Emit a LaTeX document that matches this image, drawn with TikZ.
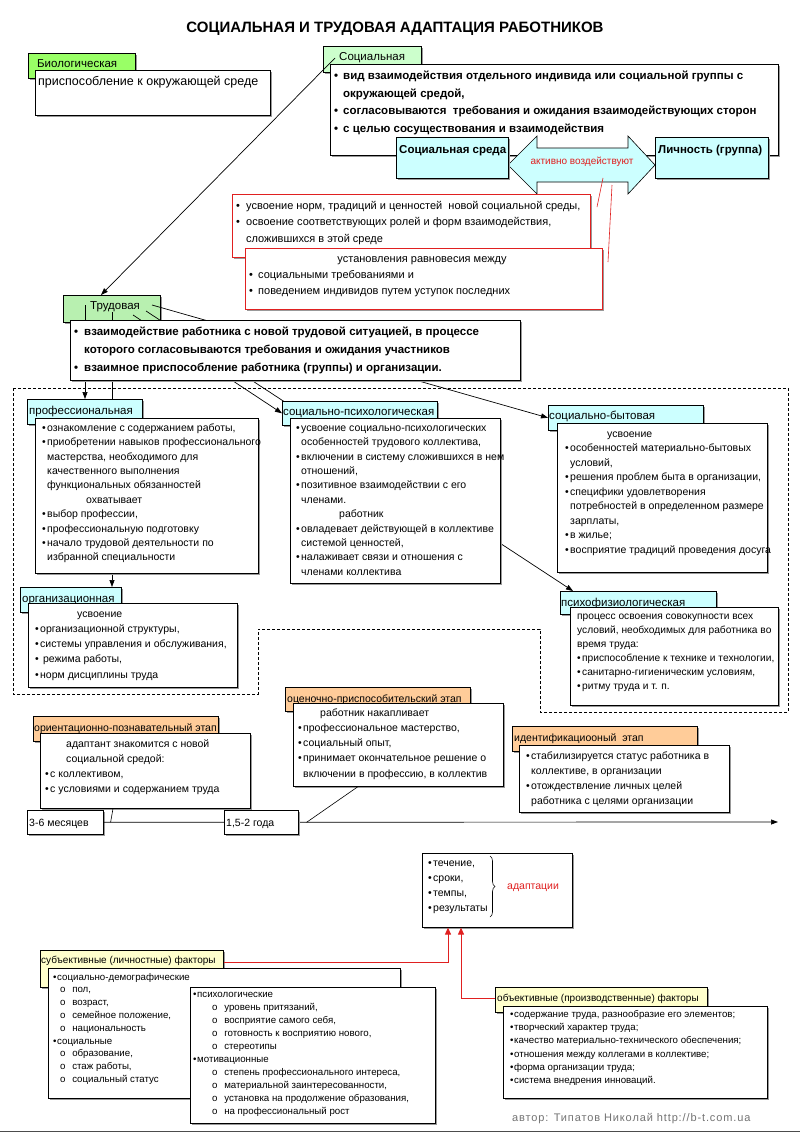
\documentclass[tikz,border=0pt]{standalone}
\usepackage{fontspec}
\setmainfont{Liberation Sans}
\usetikzlibrary{arrows.meta,calc,decorations.pathreplacing}
\definecolor{bioG}{HTML}{99FF66}
\definecolor{socG}{HTML}{CCFFCC}
\definecolor{trG}{HTML}{B8F0B0}
\definecolor{cy}{HTML}{CCFFFF}
\definecolor{orng}{HTML}{FFCC99}
\definecolor{ylw}{HTML}{FFFFCC}
\definecolor{rd}{HTML}{E02020}
\newcommand\fs[2]{\fontsize{#1}{#2}\selectfont}
\newcommand\bu[1]{\makebox[#1][l]{•}}
\newcommand\iu[1]{\hspace*{#1}}
\newcommand\R{\rule{0pt}{0.8em}}
\newcommand\bx[6]{%
  \fill[black!40] (#2+2,#3+2) rectangle (#4+2,#5+2);
  \node[#6, anchor=north west, minimum width={(#4)-(#2)}, minimum height={(#5)-(#3)}] (#1) at (#2,#3) {};}
\pgfdeclarelayer{bgl}
\pgfdeclarelayer{lnl}
\pgfsetlayers{bgl,lnl,main}
\begin{document}
\begin{tikzpicture}[x=1pt,y=-1pt,
  box/.style={draw=black, line width=0.6pt, inner sep=0pt, fill=white},
  txt/.style={anchor=base west, inner sep=0pt, align=left},
  mtxt/.style={anchor=north west, inner sep=0pt, align=left},
  arr/.style={-{Triangle[length=7pt,width=5pt]}, line width=0.7pt},
  rarr/.style={-{Triangle[length=7pt,width=6pt]}, draw=rd, line width=1pt},
  lbl/.style={txt, font=\fs{11.5}{14}},
  body/.style={mtxt, font=\fs{10.5}{14.4}}]
\begin{pgfonlayer}{bgl}
\fill[white] (0,0) rectangle (800,1140);
\end{pgfonlayer}
\useasboundingbox (0,0) rectangle (800,1140);

\node[font=\bfseries\fs{15}{17}] (title) at (395,29) {СОЦИАЛЬНАЯ И ТРУДОВАЯ АДАПТАЦИЯ РАБОТНИКОВ};

% biological
\bx{bioL}{28}{53}{135}{78}{box, fill=bioG}
\node[lbl] (bioLt) at (37,67) {Биологическая};
\bx{bioB}{35}{70}{270}{115}{box}
\node[txt, font=\fs{12.5}{15}] (bioBt) at (38,85) {приспособление к окружающей среде};

% social
\bx{socL}{323}{46}{421}{72}{box, fill=socG}
\node[lbl] (socLt) at (339,60) {Социальная};
\bx{socB}{330}{64}{778}{155}{box}
\node[mtxt, font=\bfseries\fs{11.5}{17.6}] (socBt) at (334,70.3) {\R\bu{9pt}вид взаимодействия отдельного индивида или социальной группы с\\ \iu{9pt}окружающей средой,\\ \bu{9pt}согласовываются \ требования и ожидания взаимодействующих сторон\\ \bu{9pt}с целью сосуществования и взаимодействия};
\draw[fill=cy, line width=0.6pt] (508,165) -- (537,136) -- (537,148) -- (628,148) -- (628,136) -- (655,165) -- (628,194) -- (628,182) -- (537,182) -- (537,194) -- cycle;
\bx{sred}{396}{137}{508}{178}{box, fill=cy}
\node[txt, font=\bfseries\fs{11.5}{14}] (sredt) at (399,153) {Социальная среда};
\bx{lich}{655}{137}{768}{178}{box, fill=cy}
\node[txt, font=\bfseries\fs{11.5}{14}] (licht) at (658,153) {Личность (группа)};
\node[font=\fs{10}{12}, text=rd] (aktiv) at (582,162) {активно воздействуют};
\coordinate (r1a) at (603,178); \coordinate (r1b) at (597,207);
\coordinate (r2a) at (612,185); \coordinate (r2b) at (608,262);
\draw[rd, line width=0.6pt] (r1a) -- (r1b);
\draw[rd, line width=0.6pt] (r2a) -- (r2b);

\bx{rb1}{232}{194}{590}{257}{box, draw=rd}
\node[mtxt, font=\fs{11}{16.5}] (rb1t) at (236,200.2) {\R\bu{10pt}усвоение норм, традиций и ценностей \ новой социальной среды,\\ \bu{10pt}освоение соответствующих ролей и форм взаимодействия,\\ \iu{10pt}сложившихся в этой среде};
\bx{rb2}{245}{248}{602}{309}{box, draw=rd}
\node[font=\fs{11}{13}, anchor=base, inner sep=0pt] (rb2h) at (422,262) {установления равновесия между};
\node[mtxt, font=\fs{11}{16.5}] (rb2t) at (249,269.2) {\R\bu{9pt}социальными требованиями и\\ \bu{9pt}поведением индивидов путем уступок последних};

% dashed region
\draw[line width=0.7pt, dash pattern=on 3pt off 2pt] (13,388) -- (788,388) -- (788,712) -- (540,712) -- (540,629) -- (258,629) -- (258,694) -- (13,694) -- cycle;

% labour
\begin{pgfonlayer}{bgl}
\bx{trL}{63}{295}{160}{322}{box, fill=trG}
\node[lbl] (trLt) at (90,309) {Трудовая};
\end{pgfonlayer}
\draw[arr] ($(socL.north west)+(12,12)$) -- ($(trL.north west)+(38,0)$);
\bx{trB}{70}{320}{520}{380}{box}
\node[mtxt, font=\bfseries\fs{11.5}{18}] (trBt) at (74,325.8) {\R\bu{10pt}взаимодействие работника с новой трудовой ситуацией, в процессе\\ \iu{10pt}которого согласовываются требования и ожидания участников\\ \bu{10pt}взаимное приспособление работника (группы) и организации.};

% categories
\bx{profL}{27}{399}{142}{424}{box, fill=cy}
\node[lbl] (profLt) at (29,414) {профессиональная};
\bx{profB}{35}{418}{258}{573}{box}
\node[body] (profBt) at (42,422.6) {\R\bu{5pt}ознакомление с содержанием работы,\\ \bu{5pt}приобретении навыков профессионального\\ \iu{5pt}мастерства, необходимого для\\ \iu{5pt}качественного выполнения\\ \iu{5pt}функциональных обязанностей\\ \iu{44pt}охватывает\\ \bu{5pt}выбор профессии,\\ \bu{5pt}профессиональную подготовку\\ \bu{5pt}начало трудовой деятельности по\\ \iu{5pt}избранной специальности};

\bx{orgL}{20}{587}{121}{612}{box, fill=cy}
\node[lbl] (orgLt) at (22,602) {организационная};
\bx{orgB}{28}{603}{237}{687}{box}
\node[mtxt, font=\fs{10.5}{15.2}] (orgBt) at (35,608.6) {\R\iu{42pt}усвоение\\ \bu{5pt}организационной структуры,\\ \bu{5pt}системы управления и обслуживания,\\ \bu{5pt} режима работы,\\ \bu{5pt}норм дисциплины труда};

\bx{spsL}{282}{401}{437}{425}{box, fill=cy}
\node[lbl] (spsLt) at (283,415) {социально-психологическая};
\bx{spsB}{290}{418}{500}{583}{box}
\node[body] (spsBt) at (296,422.6) {\R\bu{5pt}усвоение социально-психологических\\ \iu{5pt}особенностей трудового коллектива,\\ \bu{5pt}включении в систему сложившихся в нем\\ \iu{5pt}отношений,\\ \bu{5pt}позитивное взаимодействии с его\\ \iu{5pt}членами.\\ \iu{43pt}работник\\ \bu{5pt}овладевает действующей в коллективе\\ \iu{5pt}системой ценностей,\\ \bu{5pt}налаживает связи и отношения с\\ \iu{5pt}членами коллектива};

\bx{sbL}{548}{405}{703}{430}{box, fill=cy}
\node[lbl] (sbLt) at (549,419) {социально-бытовая};
\bx{sbB}{557}{423}{767}{572}{box}
\node[mtxt, font=\fs{10.5}{14.5}] (sbBt) at (565,428.6) {\R\iu{42pt}усвоение\\ \bu{5pt}особенностей материально-бытовых\\ \iu{5pt}условий,\\ \bu{5pt}решения проблем быта в организации,\\ \bu{5pt}специфики удовлетворения\\ \iu{5pt}потребностей в определенном размере\\ \iu{5pt}зарплаты,\\ \bu{5pt}в жилье;\\ \bu{5pt}восприятие традиций проведения досуга};

\bx{pfL}{560}{591}{716}{614}{box, fill=cy}
\node[lbl] (pfLt) at (561,606) {психофизиологическая};
\bx{pfB}{570}{607}{778}{705}{box}
\node[mtxt, font=\fs{10.2}{14}] (pfBt) at (577,610.8) {\R процесс освоения совокупности всех\\ условий, необходимых для работника во\\ время труда:\\ \bu{5pt}приспособление к технике и технологии,\\ \bu{5pt}санитарно-гигиеническим условиям,\\ \bu{5pt}ритму труда и т. п.};

% connectors from labour
\coordinate (t1) at ($(trL.north west)+(22,10)$);
\coordinate (t2) at ($(trL.north west)+(49,17)$);
\coordinate (t3) at ($(trL.north west)+(70,20)$);
\coordinate (t4) at ($(trL.north west)+(83,16)$);
\coordinate (t5) at ($(trL.north west)+(89,10)$);
\begin{pgfonlayer}{lnl}
\draw[arr] (t1) -- (t1 |- profL.north);
\draw[arr] (t2) -- (t2 |- orgL.north);
\draw[arr] (t3) -- (spsL.west);
\draw[arr] (t4) -- ($(pfL.north west)+(13,0)$);
\draw[arr] (t5) -- (sbL.west);
\end{pgfonlayer}

% stages
\bx{ocL}{285}{687}{470}{711}{box, fill=orng}
\node[txt, font=\fs{10.5}{13}] (ocLt) at (287,702) {оценочно-приспособительский этап};
\bx{ocB}{293}{703}{503}{786}{box}
\node[mtxt, font=\fs{10.5}{15.2}] (ocBt) at (298,707.6) {\R\iu{22pt}работник накапливает\\ \bu{5pt}профессиональное мастерство,\\ \bu{5pt}социальный опыт,\\ \bu{5pt}принимает окончательное решение о\\ \iu{5pt}включении в профессию, в коллектив};

\bx{orL}{33}{716}{218}{741}{box, fill=orng}
\node[txt, font=\fs{10.5}{13}] (orLt) at (34,731) {ориентационно-познавательный этап};
\bx{orB}{40}{733}{250}{808}{box}
\node[mtxt, font=\fs{10.5}{15}] (orBt) at (45,738.6) {\R\iu{21pt}адаптант знакомится с новой\\ \iu{21pt}социальной средой:\\ \bu{5pt}с коллективом,\\ \bu{5pt}с условиями и содержанием труда};

\bx{idL}{512}{726}{697}{751}{box, fill=orng}
\node[txt, font=\fs{10.5}{13}] (idLt) at (514,741) {идентификациооный \ этап};
\bx{idB}{519}{745}{729}{812}{box}
\node[mtxt, font=\fs{10.5}{15}] (idBt) at (526,750.6) {\R\bu{5pt}стабилизируется статус работника в\\ \iu{5pt}коллективе, в организации\\ \bu{5pt}отождествление личных целей\\ \iu{5pt}работника с целями организации};

% timeline
\bx{m36}{27}{810}{103}{834}{box}
\node[txt, font=\fs{10.5}{13}] (m36t) at (29,826) {3-6 месяцев};
\coordinate (tlEnd) at (778,822);
\draw[arr] (m36.east) -- (tlEnd);
\bx{y15}{224}{810}{298}{834}{box}
\node[txt, font=\fs{10.5}{13}] (y15t) at (226,826) {1,5-2 года};
\draw[line width=0.6pt] ($(m36.east)+(7,0)$) -- ($(orB.south west)+(73,0)$);
\draw[line width=0.6pt] ($(y15.east)+(8,0)$) -- ($(ocB.south west)+(65,0)$);

% adaptation
\bx{adB}{422}{853}{572}{927}{box}
\node[mtxt, font=\fs{10.5}{15}] (adBt) at (428,857.6) {\R\bu{5pt}течение,\\ \bu{5pt}сроки,\\ \bu{5pt}темпы,\\ \bu{5pt}результаты};
\draw[line width=0.6pt, decorate, decoration={brace, amplitude=5pt}] (490,856) -- (490,917);
\node[txt, font=\fs{10.5}{13}, text=rd] (adr) at (507,889) {адаптации};
\coordinate (aL) at ($(adB.south west)+(26,0)$);
\coordinate (aR) at ($(adB.south west)+(39,0)$);

% factors
\bx{sjL}{40}{950}{223}{987}{box, fill=ylw}
\node[txt, font=\fs{10}{12}] (sjLt) at (41,963) {субъективные (личностные) факторы};
\draw[rarr] ($(sjL.north east)+(0,12)$) -| (aL);
\bx{sjB}{48}{968}{400}{1098}{box}
\node[mtxt, font=\fs{9.7}{12.8}] (sjBt) at (53,972.2) {\R\bu{4pt}социально-демографические\\ \iu{7pt}o\iu{4pt} пол,\\ \iu{7pt}o\iu{4pt} возраст,\\ \iu{7pt}o\iu{4pt} семейное положение,\\ \iu{7pt}o\iu{4pt} национальность\\ \bu{4pt}социальные\\ \iu{7pt}o\iu{4pt} образование,\\ \iu{7pt}o\iu{4pt} стаж работы,\\ \iu{7pt}o\iu{4pt} социальный статус};
\bx{psB}{190}{987}{435}{1123}{box}
\node[mtxt, font=\fs{9.7}{13}] (psBt) at (193,989.2) {\R\bu{4pt}психологические\\ \iu{19pt}o\iu{4pt} уровень притязаний,\\ \iu{19pt}o\iu{4pt} восприятие самого себя,\\ \iu{19pt}o\iu{4pt} готовность к восприятию нового,\\ \iu{19pt}o\iu{4pt} стереотипы\\ \bu{4pt}мотивационные\\ \iu{19pt}o\iu{4pt} степень профессионального интереса,\\ \iu{19pt}o\iu{4pt} материальной заинтересованности,\\ \iu{19pt}o\iu{4pt} установка на продолжение образования,\\ \iu{19pt}o\iu{4pt} на профессиональный рост};

\bx{obL}{495}{987}{707}{1012}{box, fill=ylw}
\node[txt, font=\fs{10}{12}] (obLt) at (497,1001) {объективные (производственные) факторы};
\draw[rarr] ($(obL.north west)+(0,11)$) -| (aR);
\bx{obB}{503}{1006}{767}{1098}{box}
\node[mtxt, font=\fs{9.7}{13.3}] (obBt) at (510,1009.2) {\R\bu{4pt}содержание труда, разнообразие его элементов;\\ \bu{4pt}творческий характер труда;\\ \bu{4pt}качество материально-технического обеспечения;\\ \bu{4pt}отношения между коллегами в коллективе;\\ \bu{4pt}форма организации труда;\\ \bu{4pt}система внедрения инноваций.};

\node[txt, text=black!55, font=\fs{11}{13}\addfontfeatures{LetterSpace=8}] (author) at (512,1121) {автор: Типатов Николай http://b-t.com.ua};
\draw[black!70, line width=1pt] (0,1131) -- (800,1131);
\end{tikzpicture}
\end{document}
